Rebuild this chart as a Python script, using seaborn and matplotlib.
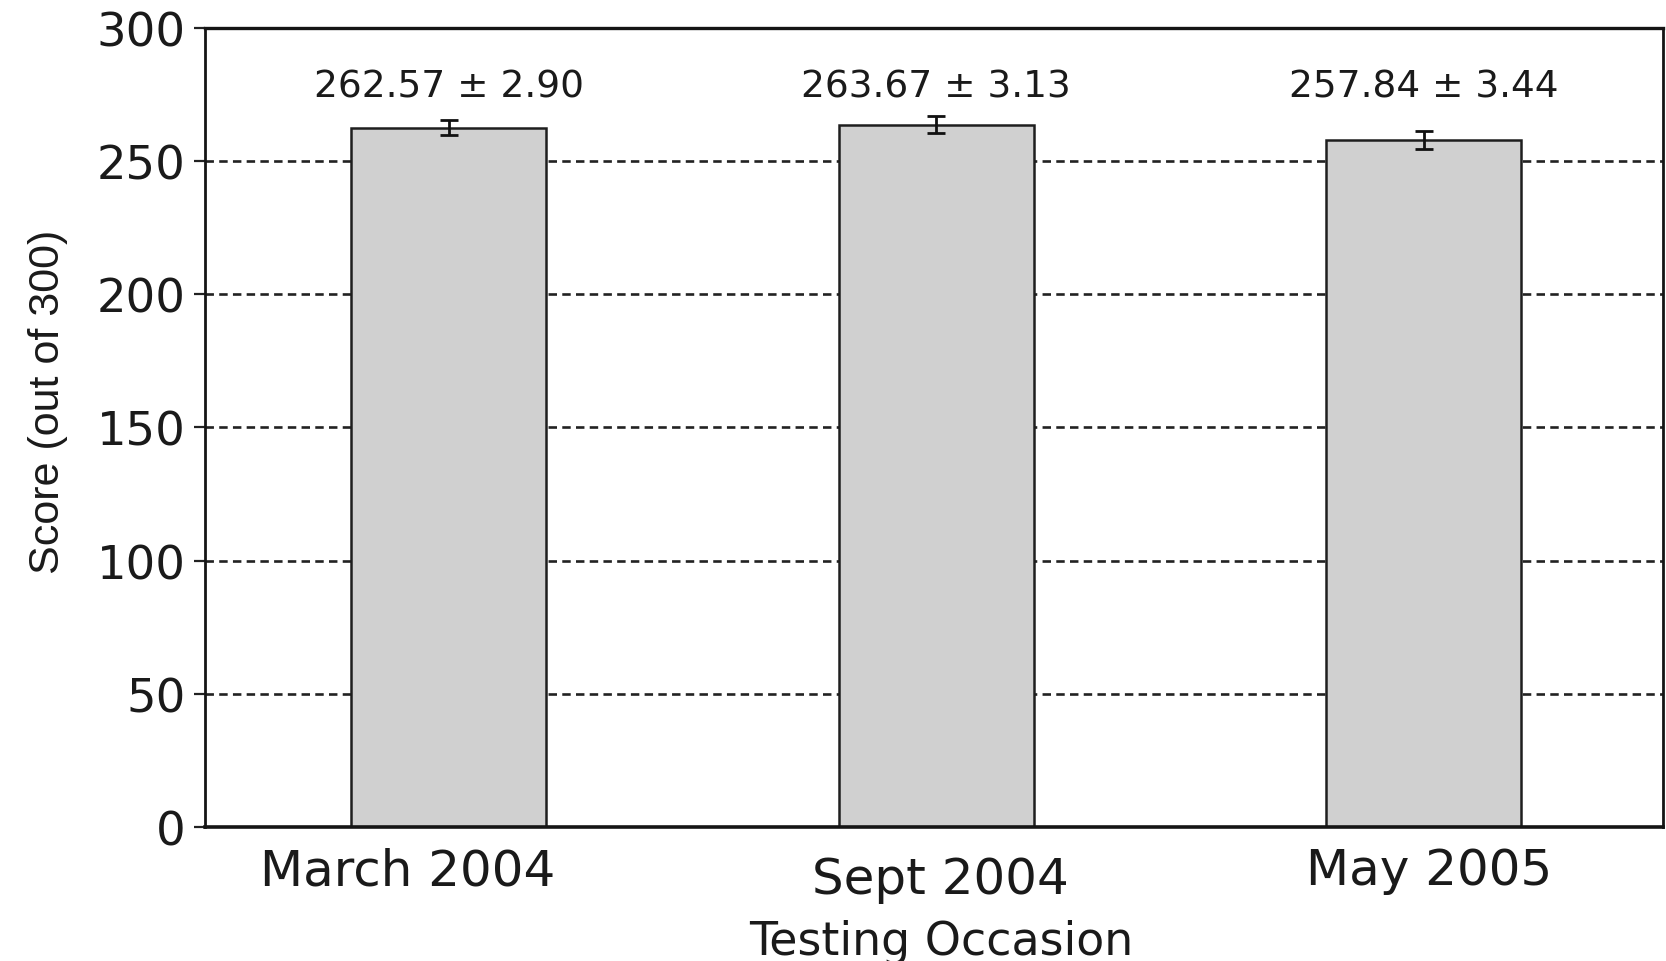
import matplotlib
matplotlib.use("Agg")
import matplotlib.pyplot as plt
import matplotlib.transforms as mtransforms
import seaborn as sns
import pandas as pd

# ---- data ----
occasions = ["March 2004", "Sept 2004", "May 2005"]
mean_scores = [262.57, 263.67, 257.84]
std_errors = [2.90, 3.13, 3.44]
y_ticks = [0, 50, 100, 150, 200, 250, 300]

df = pd.DataFrame({"Testing Occasion": occasions, "Score": mean_scores})

sns.set_theme(style="white")
plt.rcParams["font.family"] = ["DejaVu Sans"]
narrow = ["Liberation Sans", "DejaVu Sans"]

fig = plt.figure(figsize=(16.66, 9.62), dpi=100)
ax = fig.add_axes([0.123, 0.1393, 0.875, 0.8307])

# grid behind bars
ax.set_axisbelow(True)
ax.yaxis.grid(True, color="#222222", linestyle=(0, (3.2, 2.0)), linewidth=1.9)
ax.xaxis.grid(False)

sns.barplot(data=df, x="Testing Occasion", y="Score", order=occasions,
            color="#d0d0d0", saturation=1, width=0.4, errorbar=None,
            edgecolor="#1e1e1e", linewidth=1.8, ax=ax)

xpos = list(range(len(occasions)))
ax.errorbar(xpos, mean_scores, yerr=std_errors, fmt="none", ecolor="#111111",
            elinewidth=2.0, capsize=6.5, capthick=2.0, zorder=5)

for x, m, s in zip(xpos, mean_scores, std_errors):
    ax.text(x, 277.8, f"{m:.2f} \u00b1 {s:.2f}", ha="center", va="center",
            fontsize=27, color="#1a1a1a")

ax.set_ylim(0, 300)
ax.set_xlim(-0.5, 2.49)
ax.set_yticks(y_ticks)
ax.set_yticklabels([str(v) for v in y_ticks], fontsize=33.5, color="#1a1a1a")
ax.tick_params(axis="y", which="major", left=True, direction="out", length=8,
               width=1.6, pad=6, color="#222222")
ax.tick_params(axis="x", which="major", bottom=False, length=0, pad=14,
               labelsize=36, labelcolor="#1a1a1a")

# small offsets of the x tick labels as in the reference
offsets = [(-41, 0), (4, -9), (5, 0)]
for lab, (dx, dy) in zip(ax.get_xticklabels(), offsets):
    lab.set_transform(lab.get_transform() +
                      mtransforms.ScaledTranslation(dx / 100, dy / 100, fig.dpi_scale_trans))

for side in ["left", "right", "top", "bottom"]:
    ax.spines[side].set_visible(True)
    ax.spines[side].set_color("#151515")
ax.spines["left"].set_linewidth(2.0)
ax.spines["right"].set_linewidth(2.0)
ax.spines["top"].set_linewidth(2.4)
ax.spines["bottom"].set_linewidth(2.6)

ax.set_ylabel("Score (out of 300)", fontsize=31, color="#1a1a1a", family=narrow)
ax.set_xlabel("Testing Occasion", fontsize=33, color="#1a1a1a")
ax.yaxis.set_label_coords(-0.094, 0.533)
ax.xaxis.set_label_coords(0.505, -0.115)

fig.savefig("out.png", dpi=100, facecolor="white")
